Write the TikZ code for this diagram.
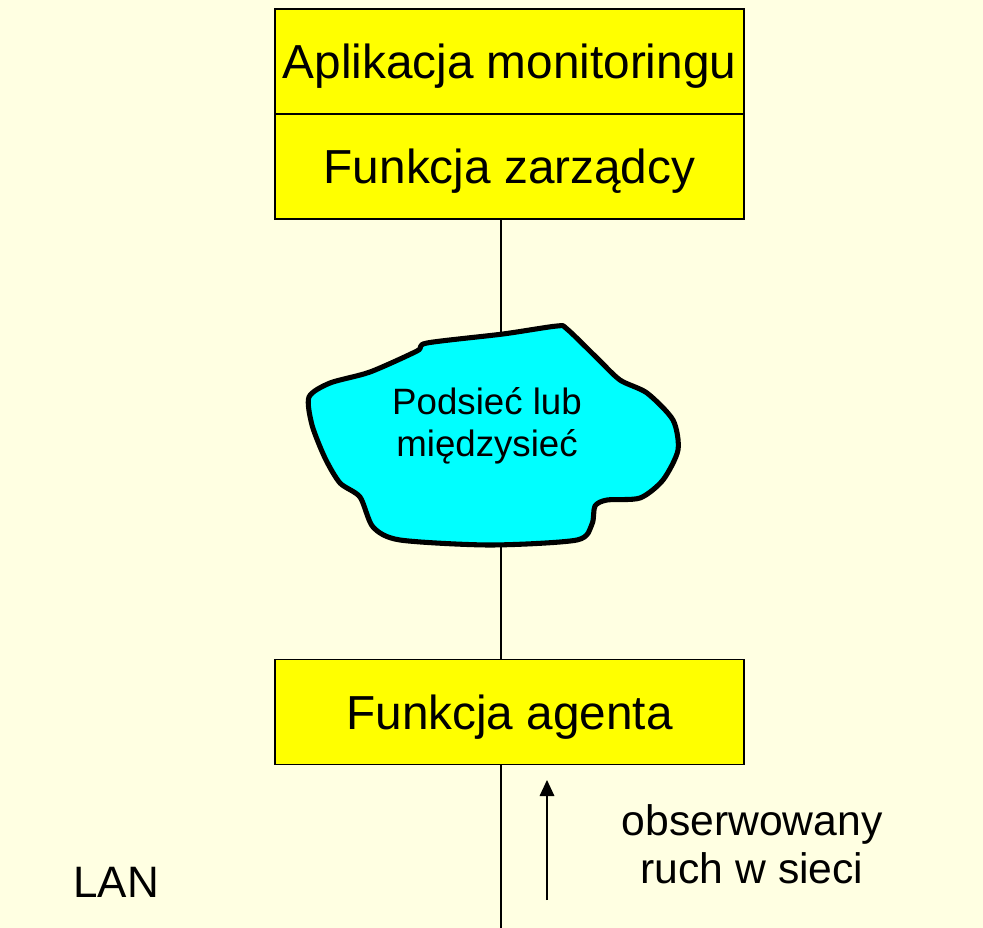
\documentclass[tikz,border=0pt]{standalone}
\usepackage{fontspec}
\setmainfont{Liberation Sans}
\usetikzlibrary{arrows.meta}
\definecolor{bgpale}{RGB}{255,255,226}
\definecolor{boxyellow}{RGB}{255,255,0}
\definecolor{netcyan}{RGB}{0,255,255}
\tikzset{
  layerbox/.style={draw=black, line width=1.1pt, fill=boxyellow, rectangle,
    minimum width=351.75pt, minimum height=78.75pt, inner sep=0pt,
    text depth=0pt, font=\fontsize{35.8}{40}\selectfont},
  wire/.style={draw=black, line width=0.9pt},
  netcloud/.style={draw=black, line width=3.8pt, fill=netcyan, line join=round},
  label/.style={font=\fontsize{32}{36}\selectfont, align=center},
}
\begin{document}
\begin{tikzpicture}[x=0.75pt, y=-0.75pt]
  % page and background
  \fill[bgpale] (0,0) rectangle (983,928);
  \useasboundingbox (0,0) rectangle (983,928);

  % manager stack
  \node[layerbox] (app) at (509.5,61.5) {Aplikacja monitoringu};
  \node[layerbox] (mgr) at (509.5,166.5) {Funkcja zarządcy};

  % agent
  \node[layerbox] (agent) at (509.5,712) {Funkcja agenta};

  % vertical link manager -> agent (passes behind the cloud)
  \coordinate (lanend) at (501,928);
  \draw[wire] (mgr.south -| 501,0) -- (agent.north -| 501,0);
  \draw[wire] (agent.south -| 501,0) -- (lanend);

  % subnet / internet cloud
  \draw[netcloud] plot[smooth cycle, tension=0.45] coordinates {
    (557,326) (503,334) (427,343) (417,351) (370,372) (330,383)
    (309,397) (312,425) (325,458) (340,483) (360,497) (373,527)
    (400,540) (490,545) (577,540) (592,524) (595,506) (607,500)
    (640,498) (663,480) (678,450) (673,420) (647,393) (620,380)
    (597,358) (567,329)};
  \node[label, font=\fontsize{27.5}{31.5}\selectfont] (net) at (487,426) {Podsieć lub\\międzysieć};

  % observed traffic arrow and caption
  \coordinate (trafA) at (547,900);
  \coordinate (trafB) at (547,780);
  \draw[wire, -{Triangle[length=12pt, width=11pt]}] (trafA) -- (trafB);
  \node[label] (traffic) at (752,844) {obserwowany\\ruch w sieci};

  % LAN label
  \node[label, font=\fontsize{33}{36}\selectfont] (lan) at (116,882) {LAN};
\end{tikzpicture}
\end{document}
